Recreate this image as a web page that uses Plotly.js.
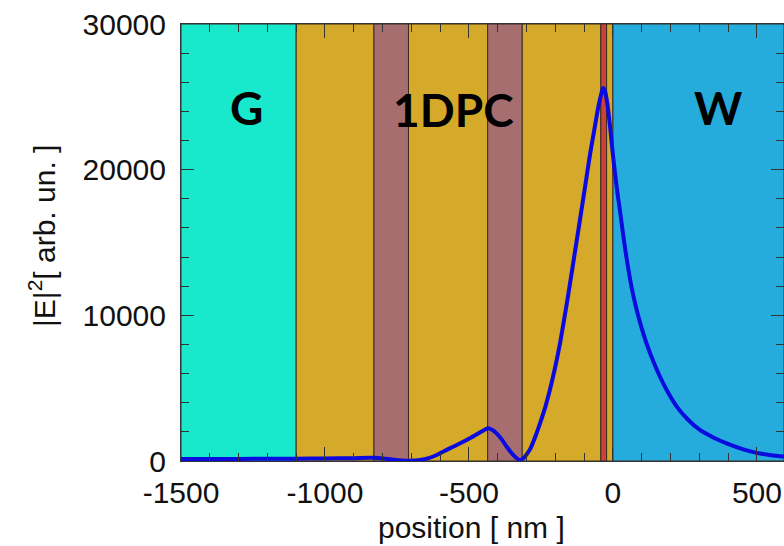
<!DOCTYPE html>
<html>
<head>
<meta charset="utf-8">
<script src="https://cdn.plot.ly/plotly-3.0.1.min.js"></script>
<style>html,body{margin:0;padding:0;background:#fff;}#chart{width:784px;height:546px;}</style>
</head>
<body>
<div id="chart"></div>
<script>
// Field intensity |E|^2 vs position (nm)
const positionNm = [-1500,-1400,-1300,-1200,-1100,-1000,-900,-844,-830,-799,-760,-716,-690,-670,-640,-612,-585,-555,-525,-497,-465,-445,-433,-420,-404,-385,-369,-350,-334,-323,-310,-300,-288,-270,-253,-235,-220,-201,-185,-170,-153,-130,-115,-97,-80,-65,-50,-40,-34,-28,-20,-10,0,13,24,35,47.5,65,82,100,117,140,163,190,221,260,302,350,395,450,499,550,594];
const intensity  = [140,140,145,150,160,175,195,215,220,180,90,20,40,70,200,410,690,980,1270,1560,1920,2150,2245,2150,1900,1450,980,500,185,40,200,450,800,1650,2600,3700,4800,6400,7950,9650,11700,14600,16500,18800,21000,22700,24400,25250,25600,25400,24600,22950,21000,18800,17230,15600,13900,11900,10400,9100,8050,6850,5800,4750,3750,2850,2130,1600,1215,820,560,400,310];

// Layer structure (boundaries in nm) and colours
const layerStart = [-1500,-1100,-830,-710,-435,-315,-42,-22,0];
const layerEnd   = [-1100,-830,-710,-435,-315,-42,-22,0,594];
const layerColor = ['#18e8cc','#d5a929','#a66e6e','#d5a929','#a66e6e','#d5a929','#c9433a','#d5a929','#26acdc'];

// Region labels
const regionLabels = ['G','1DPC','W'];
const regionX = [-1271,-552,365];
const regionY = [24300,24100,24300];

const xTickVals = [-1500,-1000,-500,0,500];
const yTickVals = [0,10000,20000,30000];

const shapes = layerStart.map((x0,i)=>({
  type:'rect', xref:'x', yref:'paper', x0:x0, x1:layerEnd[i], y0:0, y1:1,
  fillcolor:layerColor[i], line:{color:'#3b2a22', width:1}, layer:'below'
}));

const axisFont = {family:'"Liberation Sans", Arial, sans-serif', size:30, color:'#111'};

const annotations = regionLabels.map((t,i)=>({
  text:t, x:regionX[i], y:regionY[i], xref:'x', yref:'y', showarrow:false,
  font:{family:'Lato, "Open Sans", sans-serif', size:46, color:'#000', weight:700},
  xanchor:'center', yanchor:'middle'
}));
// axis titles
annotations.push({
  text:'position [ nm ]', xref:'paper', yref:'paper', x:0.481, y:-0.153,
  xanchor:'center', yanchor:'middle', showarrow:false, font:axisFont
});
annotations.push({
  text:'|E|<sup>2</sup>[ arb. un. ]', xref:'paper', yref:'paper', x:-0.2305, y:0.515,
  xanchor:'center', yanchor:'middle', textangle:-90, showarrow:false, font:axisFont
});

const trace = {
  x: positionNm, y: intensity, type:'scatter', mode:'lines',
  line:{color:'#0b0be0', width:4, shape:'spline', smoothing:0.8},
  hoverinfo:'skip'
};

const layout = {
  width:784, height:546,
  margin:{l:181, r:0, t:24, b:85, pad:0},
  paper_bgcolor:'#fff', plot_bgcolor:'#fff',
  showlegend:false,
  shapes: shapes,
  annotations: annotations,
  xaxis:{
    range:[-1500,594], tickvals:xTickVals, ticktext:xTickVals.map(String),
    ticks:'inside', ticklen:14, tickwidth:1, tickcolor:'#333',
    minor:{dtick:100, tick0:0, ticks:'inside', ticklen:8, tickwidth:1, tickcolor:'#333'},
    showline:true, linecolor:'#333', linewidth:1, mirror:'ticks',
    showgrid:false, zeroline:false,
    tickfont:axisFont, ticklabelstandoff:5
  },
  yaxis:{
    range:[0,30000], tickvals:yTickVals, ticktext:yTickVals.map(String),
    ticks:'inside', ticklen:13, tickwidth:1, tickcolor:'#333',
    minor:{dtick:2000, tick0:0, ticks:'inside', ticklen:8, tickwidth:1, tickcolor:'#333'},
    showline:true, linecolor:'#333', linewidth:1, mirror:'ticks',
    showgrid:false, zeroline:false,
    tickfont:axisFont, ticklabelstandoff:8
  }
};

Plotly.newPlot('chart', [trace], layout, {staticPlot:true, displayModeBar:false});
</script>
</body>
</html>
